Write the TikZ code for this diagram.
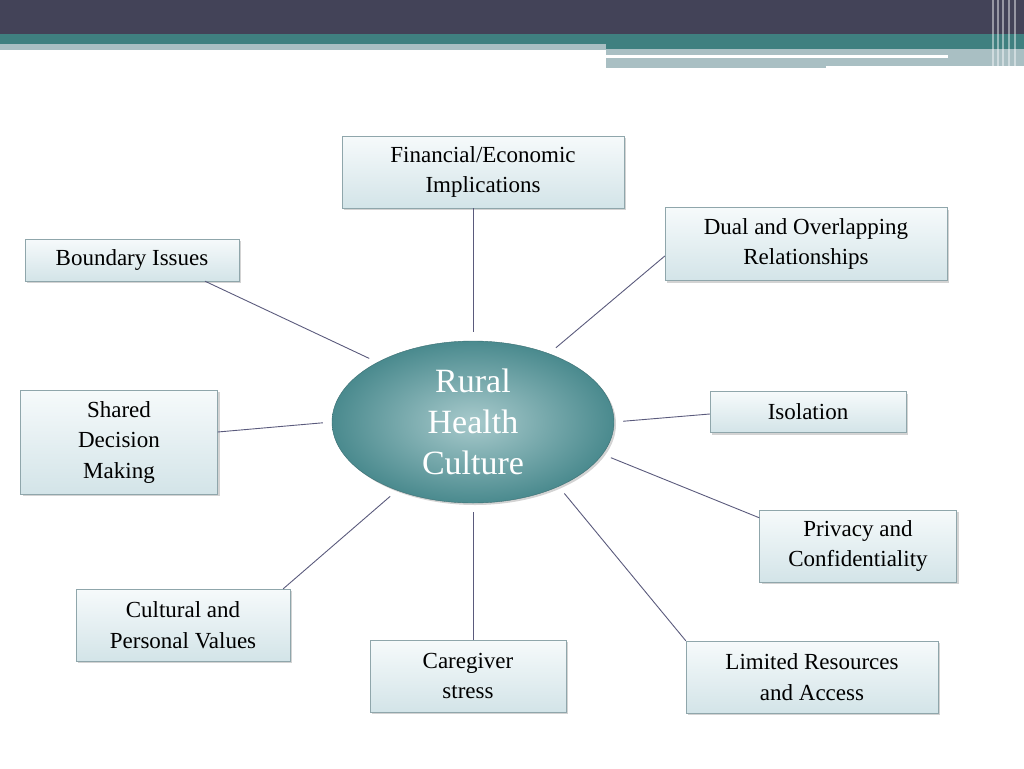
\documentclass[tikz,border=0pt]{standalone}
\usepackage{fontspec}
\setmainfont{Liberation Serif}
\usetikzlibrary{shapes.geometric, shadows, positioning}
\definecolor{barDark}{HTML}{434358}
\definecolor{barTeal}{HTML}{3F8080}
\definecolor{barLight}{HTML}{A9BFC3}
\definecolor{hubIn}{HTML}{A8CACC}
\definecolor{hubOut}{HTML}{4A8A8E}
\definecolor{boxTop}{HTML}{F6FAFB}
\definecolor{boxBot}{HTML}{D3E4E8}
\definecolor{boxLine}{HTML}{8FA6AB}
\definecolor{linkCol}{HTML}{5A5A7C}

\begin{document}
\begin{tikzpicture}[
    x=1pt, y=-1pt,
    box/.style={rectangle, draw=boxLine, top color=boxTop, bottom color=boxBot, align=center,
        font=\fontsize{23}{30.5}\selectfont, text=black, inner sep=0pt,
        drop shadow={shadow xshift=2pt, shadow yshift=-2pt, opacity=0.35}},
    hub/.style={ellipse, draw=hubOut!80!black, inner color=hubIn, outer color=hubOut, text=white,
        align=center, font=\fontsize{34}{41}\selectfont, inner sep=0pt,
        drop shadow={shadow xshift=2pt, shadow yshift=-2pt, opacity=0.35}},
    link/.style={draw=linkCol, line width=0.9pt, shorten <=9pt}
]
\useasboundingbox (0,0) rectangle (1024,768);

% header bars
\fill[barDark] (0,0) rectangle (1024,34);
\fill[barTeal] (0,34) rectangle (1024,49);
\fill[barLight] (0,44) rectangle (606,50);
\fill[barLight] (606,49) rectangle (1024,68);
\fill[white] (606,55) rectangle (948,58);
\fill[white] (826,66) rectangle (1024,69);
\foreach \x in {992,997,1002,1008,1014}
    \fill[white, opacity=0.45] (\x,0) rectangle ++(2,68);

% hub
\node[hub, minimum width=282pt, minimum height=162pt] (hub) at (473,422) {Rural\\Health\\Culture};

% topics
\node[box, minimum width=282pt, minimum height=72pt] (fin) at (483,172) {Financial/Economic\\Implications};
\node[box, minimum width=282pt, minimum height=73pt] (dual) at (806,244) {Dual and Overlapping\\Relationships};
\node[box, minimum width=214pt, minimum height=42pt] (bound) at (132,260) {Boundary Issues};
\node[box, minimum width=197pt, minimum height=104pt] (shared) at (119,442) {Shared\\Decision\\Making};
\node[box, minimum width=196pt, minimum height=41pt] (iso) at (808,412) {Isolation};
\node[box, minimum width=197pt, minimum height=72pt] (priv) at (858,546) {Privacy and\\Confidentiality};
\node[box, minimum width=214pt, minimum height=72pt] (cult) at (183,625) {Cultural and\\Personal Values};
\node[box, minimum width=196pt, minimum height=72pt] (care) at (468,676) {Caregiver\\stress};
\node[box, minimum width=252pt, minimum height=72pt] (lim) at (812,677) {Limited Resources\\and Access};

% links
\draw[link] (hub.90) -- ([xshift=-10pt]fin.south);
\draw[link] (hub.42) -- ([yshift=-12pt]dual.west);
\draw[link] (hub.148) -- ([xshift=73pt]bound.south);
\draw[link] (hub.180) -- ([yshift=10pt]shared.east);
\draw[link] (hub.0) -- ([yshift=-2pt]iso.west);
\draw[link] (hub.-14) -- ([yshift=-8pt]priv.north west);
\draw[link] (hub.222) -- ([xshift=-7pt]cult.north east);
\draw[link] (hub.270) -- ([xshift=5pt]care.north);
\draw[link] (hub.-37) -- (lim.north west);

\end{tikzpicture}
\end{document}
